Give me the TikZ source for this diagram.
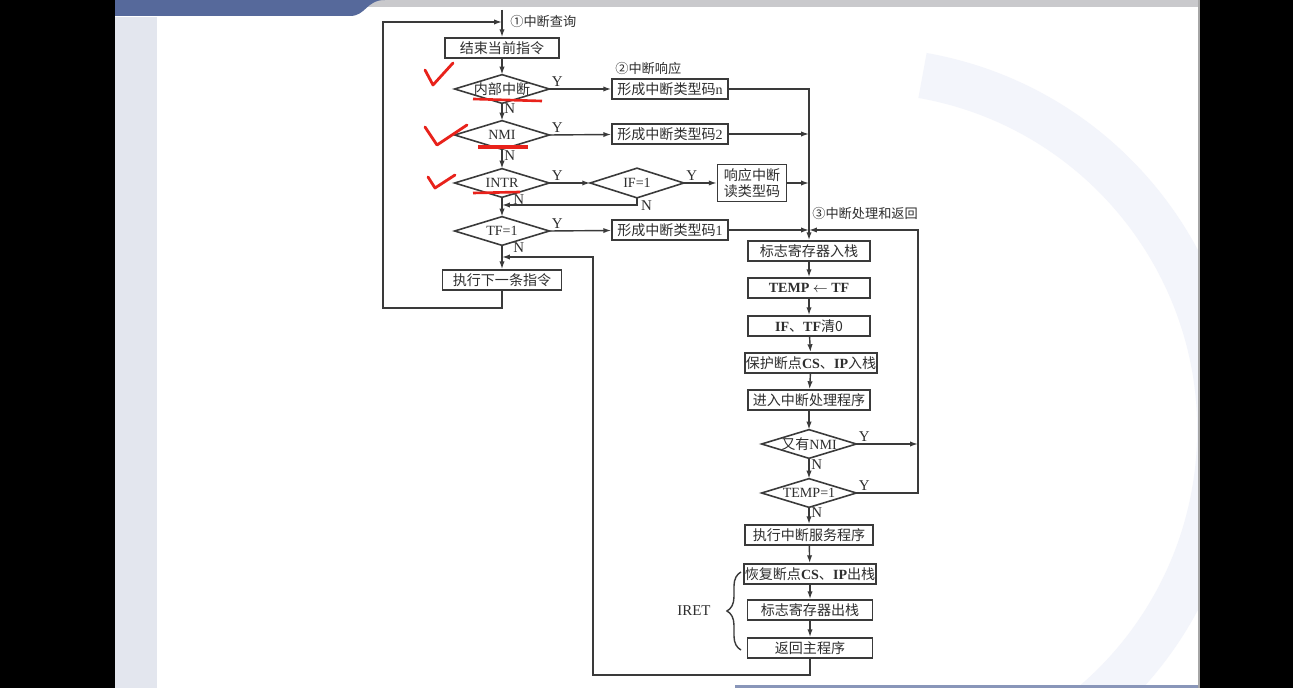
\documentclass[tikz,border=0pt]{standalone}
\usepackage{fontspec}
\setmainfont{Liberation Serif}
\newfontfamily\cjk{Noto Sans CJK SC}
\usetikzlibrary{arrows.meta, positioning, decorations.pathreplacing}
\definecolor{LineGray}{HTML}{3A3A3A}
\definecolor{TextGray}{HTML}{2E2E2E}
\definecolor{TopBlue}{HTML}{56699B}
\definecolor{TopGray}{HTML}{C9C9CC}
\definecolor{StripGray}{HTML}{E3E6EE}
\definecolor{ArcBlue}{HTML}{F3F5FB}
\definecolor{MarkRed}{HTML}{E8221B}
\newcommand\rmx[1]{{\rmfamily #1}}

\begin{document}
\begin{tikzpicture}[
    x=0.02cm, y=-0.02cm,
    box/.style={draw=LineGray, line width=0.9pt, minimum height=0.4cm, minimum width=2.32cm,
        inner xsep=0.5pt, inner ysep=1pt, font=\cjk\fontsize{8}{9.5}\selectfont, text=TextGray},
    rbox/.style={box, minimum width=2.45cm},
    decision/.style={minimum width=1.88cm, minimum height=0.56cm, inner sep=0pt,
        font=\fontsize{8}{9.5}\selectfont, text=TextGray},
    yn/.style={font=\fontsize{8.5}{10}\selectfont, text=TextGray, inner sep=1pt},
    note/.style={font=\cjk\fontsize{7.5}{9}\selectfont, text=TextGray, anchor=west, inner sep=0pt},
    flow/.style={draw=LineGray, line width=0.8pt},
    arrow/.style={flow, -{Latex[length=4.5pt,width=3pt]}},
    check/.style={draw=MarkRed, line width=1.6pt, line cap=round, line join=round}
]
\useasboundingbox (0,0) rectangle (1293,688);

% === Slide background ===
\fill[white] (115,0) rectangle (1200,688);
\begin{scope}
  \clip (115,0) rectangle (1200,688);
  \draw[ArcBlue, line width=26pt] (860,430) ++(-80:360) arc[start angle=-80, end angle=55, radius=360];
\end{scope}
\fill[StripGray] (115,17) rectangle (157,688);
\fill[TopGray] (330,0) rectangle (1200,7);
\fill[TopBlue] (115,0) -- (115,16) -- (350,16) .. controls (366,16) and (366,0) .. (385,0) -- cycle;
\fill[TopBlue!70] (735,685) rectangle (1200,688);
\draw[gray!70, line width=1pt] (1199,0) -- (1199,688);
\fill[black] (0,0) rectangle (115,688);
\fill[black] (1200,0) rectangle (1293,688);

% === Left column ===
\node[box, minimum width=2.28cm] (endc) at (502,48) {结束当前指令};
\node[decision] (qint) at (502,89) {{\cjk 内部中断}};
\node[decision] (qnmi) at (502,135) {NMI};
\node[decision] (qintr) at (502,183) {INTR};
\node[decision] (qtf) at (502,231) {TF=1};
\node[box, minimum width=2.38cm] (next) at (502,280) {执行下一条指令};

% === Middle column ===
\node[box] (typen) at (670,89) {形成中断类型码\rmx{n}};
\node[box] (type2) at (670,134) {形成中断类型码\rmx{2}};
\node[decision, minimum width=1.86cm, minimum height=0.58cm] (qif) at (637,183) {IF=1};
\node[box, minimum width=1.38cm, minimum height=0.74cm, align=center] (resp) at (752,183) {响应中断\\读类型码};
\node[box] (type1) at (670,230) {形成中断类型码\rmx{1}};

% === Right column ===
\node[rbox] (push) at (809,251) {标志寄存器入栈};
\node[rbox] (tmp) at (809,288) {\rmx{\bfseries TEMP $\leftarrow$ TF}};
\node[rbox] (clr) at (809,326) {\rmx{\bfseries IF}、\rmx{\bfseries TF}清0};
\node[rbox, minimum width=2.62cm] (save) at (811,363) {保护断点\rmx{\bfseries CS}、\rmx{\bfseries IP}入栈};
\node[rbox] (enter) at (809,400) {进入中断处理程序};
\node[decision] (qnmi2) at (809,444) {{\cjk 又有}NMI};
\node[decision] (qtemp) at (809,493) {TEMP=1};
\node[rbox, minimum width=2.55cm] (serv) at (809,535) {执行中断服务程序};
\node[rbox, minimum width=2.5cm] (popip) at (810,574) {恢复断点\rmx{\bfseries CS}、\rmx{\bfseries IP}出栈};
\node[rbox, minimum width=2.5cm] (popf) at (810,610) {标志寄存器出栈};
\node[rbox, minimum width=2.5cm] (ret) at (810,648) {返回主程序};

% diamond outlines
\foreach \d in {qint, qnmi, qintr, qtf, qif, qnmi2, qtemp}
  \draw[flow, line width=0.9pt] (\d.west) -- (\d.north) -- (\d.east) -- (\d.south) -- cycle;

% Labels
\node[note] (lq) at (510,22) {①中断查询};
\node[note] (lr) at (615,68) {②中断响应};
\node[note] (lh) at (812,213) {③中断处理和返回};
\node[yn] (iret) at (694,611) {IRET};

% === Connectors, left ===
\coordinate (entry) at (502,10);
\coordinate (loopin) at (502,22);
\coordinate (lpb) at (383,308);
\coordinate (lpt) at (383,22);
\coordinate (ifn) at (637,205);
\coordinate (ifback) at (502,205);
\coordinate (tfback) at (502,257);
\draw[arrow] (entry) -- (endc.north);
\draw[arrow] (next.south) |- (lpb) -- (lpt) -- (loopin);
\draw[arrow] (endc) -- (qint);
\draw[arrow] (qint) -- node[yn, right, pos=0.3] {N} (qnmi);
\draw[arrow] (qnmi) -- node[yn, right, pos=0.3] {N} (qintr);
\draw[arrow] (qintr) -- node[yn, right=5pt, pos=0.1] {N} (qtf);
\draw[arrow] (qtf) -- node[yn, right=5pt, pos=0.1] {N} (next);
\draw[arrow] (qif.south) -- (ifn) -- (ifback);
\node[yn, anchor=north west] at (639,199) {N};

% Y branches
\draw[arrow] (qint.east) -- node[yn, above right, pos=0] {Y} (typen);
\draw[arrow] (qnmi.east) -- node[yn, above right, pos=0] {Y} (type2);
\draw[arrow] (qintr.east) -- node[yn, above right, pos=0] {Y} (qif.west);
\draw[arrow] (qif.east) -- node[yn, above right, pos=0] {Y} (resp);
\draw[arrow] (qtf.east) -- node[yn, above right, pos=0] {Y} (type1);

% === Merge into right column ===
\coordinate (jn) at (809,89);
\coordinate (join) at (809,230);
\coordinate (rtop) at (918,230);
\coordinate (rbot) at (918,493);
\draw[flow] (typen.east) -- (jn) -- (join);
\draw[arrow] (type2.east) -- (type2.east -| join);
\draw[arrow] (resp.east) -- (resp.east -| join);
\draw[arrow] (type1.east) -- (join);
\draw[arrow] (join) -- (push);

\foreach \a/\b in {push/tmp, tmp/clr, clr/save, save/enter, enter/qnmi2, serv/popip, popip/popf, popf/ret}
  \draw[arrow] (\a) -- (\b);
\draw[arrow] (qnmi2) -- node[yn, right, pos=0.3] {N} (qtemp);
\draw[arrow] (qtemp) -- node[yn, right, pos=0.3] {N} (serv);
\draw[arrow] (qnmi2.east) -- node[yn, above right, pos=0] {Y} (qnmi2.east -| rtop);
\draw[arrow] (qtemp.east) -- node[yn, above right, pos=0] {Y} (rbot) -- (rtop) -- (join);

% return to main program
\coordinate (rb1) at (810,675);
\coordinate (rb2) at (593,675);
\coordinate (rb3) at (593,257);
\draw[arrow] (ret.south) -- (rb1) -- (rb2) -- (rb3) -- (tfback);

% IRET brace
\draw[flow, decorate, decoration={brace, amplitude=8pt}] (741,650) -- (741,572);

% === Red marks ===
\draw[check] (425,70) -- (433,85) -- (453,63);
\draw[check] (425,127) -- (437,145) -- (467,125);
\draw[check] (428,177) -- (435,188) -- (455,175);
\draw[MarkRed, line width=1.5pt] (473,99) -- (542,101);
\draw[MarkRed, line width=2.4pt] (478,147) -- (528,147);
\draw[MarkRed, line width=1.5pt] (473,193) -- (520,192);
\end{tikzpicture}
\end{document}
